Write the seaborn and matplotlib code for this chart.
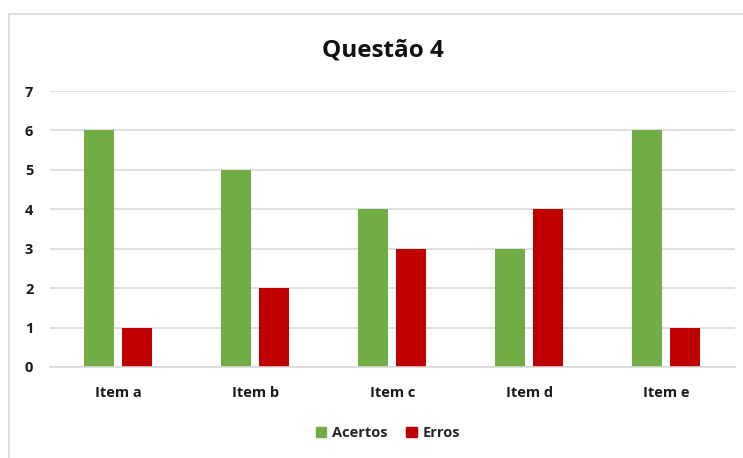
import matplotlib
matplotlib.use("Agg")
import matplotlib.pyplot as plt
import seaborn as sns
import pandas as pd
from matplotlib.patches import Rectangle

categories = ["Item a", "Item b", "Item c", "Item d", "Item e"]
acertos = [6, 5, 4, 3, 6]
erros = [1, 2, 3, 4, 1]
series = ["Acertos", "Erros"]
colors = ["#70AD47", "#C00000"]

df = pd.DataFrame({
    "Item": categories * 2,
    "Valor": acertos + erros,
    "Série": [series[0]] * len(categories) + [series[1]] * len(categories),
})

sns.set_style("white")
plt.rcParams["font.family"] = ["Open Sans", "DejaVu Sans"]

fig = plt.figure(figsize=(7.43, 4.58), dpi=100)
ax = fig.add_axes([50 / 743, (458 - 367) / 458, (734.5 - 50) / 743, (367 - 91) / 458])

sns.barplot(data=df, x="Item", y="Valor", hue="Série", palette=colors,
            width=0.555, gap=0.21, ax=ax, legend=False, saturation=1, linewidth=0)

ax.set_ylim(0, 7)
ax.set_yticks(range(0, 8))
ax.set_xlim(-0.5, 4.5)
ax.grid(axis="y", color="#D9D9D9", linewidth=1.2)
ax.set_axisbelow(True)
for s in ["top", "right", "left"]:
    ax.spines[s].set_visible(False)
ax.spines["bottom"].set_color("#D9D9D9")
ax.spines["bottom"].set_linewidth(1.2)
ax.set_xlabel("")
ax.set_ylabel("")
ax.tick_params(axis="both", length=0, labelsize=10.5, colors="#1a1a1a")
ax.tick_params(axis="y", pad=12)
ax.tick_params(axis="x", pad=14)
for lbl in ax.get_xticklabels() + ax.get_yticklabels():
    lbl.set_fontweight("bold")

fig.text(383 / 743, 1 - 50 / 458, "Questão 4", ha="center", va="center",
         fontsize=17.5, fontweight="bold", color="#111111")

handles = [Rectangle((0, 0), 1, 1, color=c) for c in colors]
leg = fig.legend(handles, series, loc="center", bbox_to_anchor=(388 / 743, 1 - 433 / 458),
                 ncol=2, frameon=False, handlelength=0.7, handleheight=0.7,
                 handletextpad=0.4, columnspacing=1.3, prop={"size": 10.5, "weight": "bold"})

# chart border
fig.add_artist(Rectangle((9 / 743, -0.01), 1.0, 1 - 14 / 458 + 0.01, transform=fig.transFigure,
                         fill=False, edgecolor="#D9D9D9", linewidth=1.2))

fig.savefig("out.png", dpi=100)
